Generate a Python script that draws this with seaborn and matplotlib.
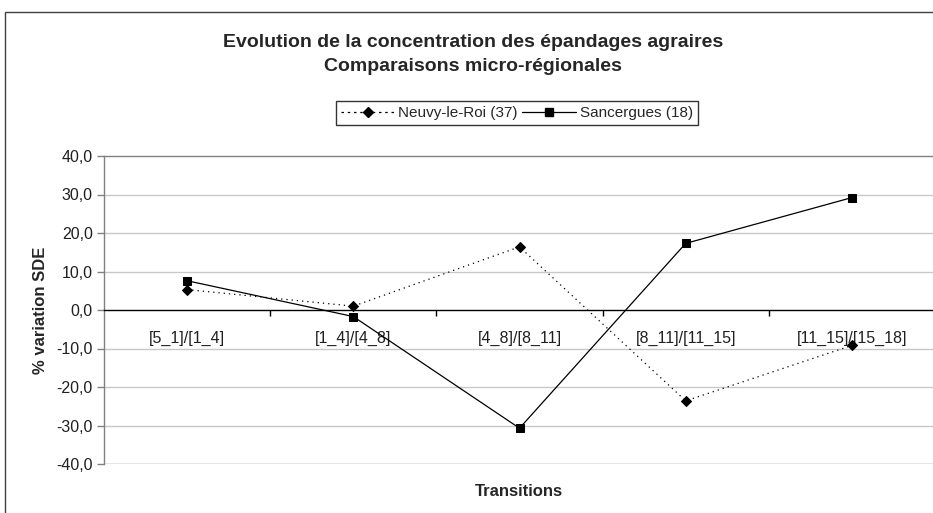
import matplotlib
matplotlib.use("Agg")
import matplotlib.pyplot as plt
from matplotlib.patches import Rectangle
from matplotlib.ticker import FixedLocator, FuncFormatter
import pandas as pd
import seaborn as sns

# Transitions between periods
transitions = ["[5_1]/[1_4]", "[1_4]/[4_8]", "[4_8]/[8_11]", "[8_11]/[11_15]", "[11_15]/[15_18]"]
# % variation of the SDE per micro-region
neuvy = [5.3, 1.0, 16.4, -23.6, -9.2]
sancergues = [7.6, -1.7, -30.7, 17.3, 29.2]
series_names = ["Neuvy-le-Roi (37)", "Sancergues (18)"]
y_ticks = [-40, -30, -20, -10, 0, 10, 20, 30, 40]

df = pd.DataFrame({
    "Transitions": transitions * 2,
    "value": neuvy + sancergues,
    "serie": [series_names[0]] * len(transitions) + [series_names[1]] * len(transitions),
})

sns.set_style("white")
plt.rcParams["font.family"] = ["Liberation Sans", "DejaVu Sans"]

W, H = 933, 513
fig = plt.figure(figsize=(W / 100, H / 100), dpi=100)
fig.patch.set_facecolor("white")

# outer chart frame
fig.patches.append(Rectangle((5 / W, -0.05), 1.2, 1 - 12 / H + 0.05, transform=fig.transFigure,
                             fill=False, edgecolor="#404040", linewidth=1.0))

left, right, top, bottom = 104, 935, 156, 464
ax = fig.add_axes([left / W, 1 - bottom / H, (right - left) / W, (bottom - top) / H])
ax.set_facecolor("white")

sns.lineplot(data=df, x="Transitions", y="value", hue="serie", style="serie",
             palette={series_names[0]: "black", series_names[1]: "black"},
             dashes={series_names[0]: (1, 3.2), series_names[1]: ""},
             markers={series_names[0]: "D", series_names[1]: "s"},
             markersize=6, linewidth=0.9, ax=ax, legend=False, zorder=5,
             markeredgecolor="black")
# slightly smaller diamonds
for line in ax.get_lines():
    if line.get_marker() == "D":
        line.set_markersize(5)

ax.set_xlim(-0.5, len(transitions) - 0.5)
ax.set_ylim(-40, 40)
ax.yaxis.set_major_locator(FixedLocator(y_ticks))
ax.yaxis.set_major_formatter(FuncFormatter(lambda v, p: f"{v:.1f}".replace(".", ",")))
for v in y_ticks:
    if v not in (0, 40, -40):
        ax.axhline(v, color="#c8c8c8", linewidth=1.0, zorder=1)
ax.axhline(-40, color="#808080", linewidth=1.0, zorder=2)

ax.spines["right"].set_visible(False)
ax.spines["top"].set_color("#808080")
ax.spines["left"].set_color("#808080")
ax.spines["bottom"].set_position(("data", 0))
ax.spines["bottom"].set_color("black")
for s in ax.spines.values():
    s.set_linewidth(1.0)

ax.tick_params(axis="y", which="major", direction="out", length=5, width=1, color="#808080",
               labelsize=11.5, pad=3, left=True, labelcolor="#202020")
ax.set_xticks(range(len(transitions)))
ax.set_xticklabels(transitions)
ax.set_xticks([i + 0.5 for i in range(len(transitions) - 1)], minor=True)
ax.tick_params(axis="x", which="major", length=0, pad=15, labelsize=11.5, labelcolor="#202020")
ax.tick_params(axis="x", which="minor", direction="out", length=4, width=1, color="black", bottom=True)

ax.set_xlabel("")
ax.set_ylabel("% variation SDE", fontsize=12, fontweight="bold", labelpad=6)
fig.text(519 / W, 1 - 491 / H, "Transitions", ha="center", va="center", fontsize=12, fontweight="bold")

fig.text(473 / W, 1 - 43 / H, "Evolution de la concentration des épandages agraires",
         ha="center", va="center", fontsize=14, fontweight="bold")
fig.text(473 / W, 1 - 67 / H, "Comparaisons micro-régionales",
         ha="center", va="center", fontsize=14, fontweight="bold")

handles = [
    plt.Line2D([], [], color="black", linestyle=(0, (2, 3)), linewidth=0.9, marker="D", markersize=5),
    plt.Line2D([], [], color="black", linestyle="-", linewidth=0.9, marker="s", markersize=6),
]
leg = fig.legend(handles, series_names, loc="center", bbox_to_anchor=(517 / W, 1 - 113 / H),
                 ncol=2, frameon=True, fancybox=False, fontsize=11, handlelength=3.5,
                 handletextpad=0.25, columnspacing=0.3, borderpad=0.35, borderaxespad=0)
leg.get_frame().set_edgecolor("black")
leg.get_frame().set_linewidth(1.0)

fig.savefig("out.png", dpi=100)
